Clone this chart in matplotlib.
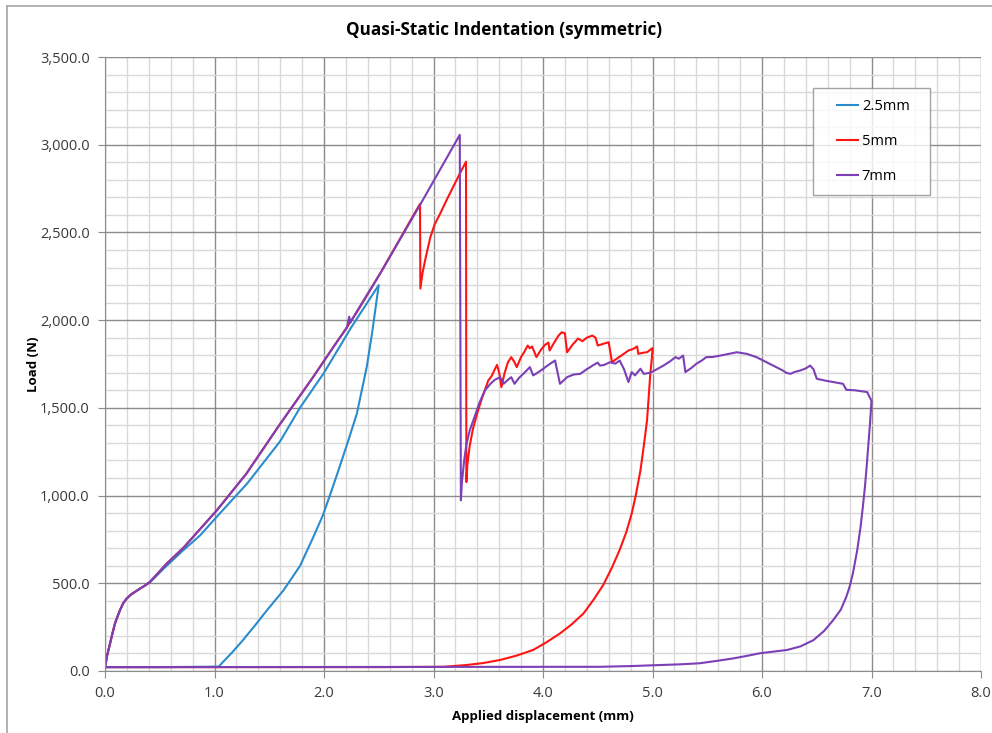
import matplotlib
matplotlib.use("Agg")
import matplotlib.pyplot as plt
from matplotlib.ticker import MultipleLocator, FuncFormatter
from matplotlib.lines import Line2D
from matplotlib.legend_handler import HandlerLine2D

plt.rcParams['font.family'] = ['Open Sans', 'DejaVu Sans']

# ---- data ----
# common loading branch (x in mm, load in N)
load_x = [0.0, 0.02, 0.046, 0.07, 0.091, 0.115, 0.137, 0.165, 0.198, 0.235, 0.274, 0.32, 0.36, 0.41,
          0.56, 0.72, 0.87, 1.02, 1.29, 1.60, 1.90, 2.10, 2.21]
load_y = [20, 90, 157, 220, 271, 312, 347, 385, 413, 435, 451, 470, 485, 508,
          610, 705, 810, 915, 1124, 1409, 1675, 1860, 1959]

# 2.5 mm
b_x = [0.0, 0.02, 0.046, 0.07, 0.091, 0.115, 0.137, 0.165, 0.198, 0.235, 0.274, 0.32, 0.36, 0.41,
       0.53, 0.70, 0.87, 1.00, 1.30, 1.60, 1.78, 2.00, 2.25, 2.50,
       2.48, 2.44, 2.39, 2.30, 2.22, 2.146, 2.07, 1.99, 1.90, 1.78, 1.63, 1.48, 1.37, 1.26, 1.16, 1.066, 1.04,
       0.5, 0.0]
b_y = [20, 90, 157, 220, 271, 312, 347, 385, 413, 435, 451, 470, 485, 505,
       580, 680, 774, 865, 1070, 1310, 1500, 1700, 1960, 2200,
       2111, 1930, 1732, 1467, 1310, 1170, 1030, 888, 760, 598, 460, 347, 260, 176, 105, 44, 25,
       22, 22]

# 5 mm
r_x = load_x + [2.24, 2.30, 2.51, 2.70, 2.80, 2.877, 2.88, 2.90, 2.93, 2.97, 3.01, 3.06, 3.12, 3.18, 3.24,
                3.297, 3.30,
                3.31, 3.33, 3.36, 3.40, 3.44, 3.48, 3.50, 3.53, 3.56, 3.58, 3.60, 3.62, 3.65, 3.68, 3.71,
                3.74, 3.76, 3.80, 3.83, 3.86, 3.88, 3.90, 3.94, 3.98, 4.02, 4.05, 4.06, 4.10, 4.14, 4.17,
                4.20, 4.22, 4.27, 4.32, 4.36, 4.40, 4.45, 4.48, 4.50, 4.55, 4.60, 4.63, 4.67, 4.72, 4.78,
                4.82, 4.86, 4.87, 4.92, 4.95, 4.99, 5.00,
                4.995, 4.98, 4.965, 4.95, 4.92, 4.89, 4.85, 4.81, 4.76, 4.70, 4.63, 4.55, 4.46, 4.37, 4.26,
                4.155, 4.03, 3.91, 3.76, 3.61, 3.45, 3.30, 3.09, 2.5, 0.0]
r_y = load_y + [1990, 2045, 2263, 2470, 2580, 2663, 2180, 2270, 2360, 2470, 2545, 2606, 2685, 2760, 2835,
                2903, 1077,
                1180, 1280, 1380, 1470, 1550, 1620, 1656, 1680, 1720, 1745, 1700, 1618, 1700, 1760, 1789,
                1760, 1732, 1790, 1820, 1855, 1840, 1850, 1789, 1830, 1860, 1872, 1827, 1870, 1910, 1931,
                1925, 1817, 1860, 1895, 1880, 1900, 1912, 1900, 1855, 1865, 1874, 1760, 1779, 1800, 1827,
                1835, 1850, 1808, 1815, 1817, 1836, 1840,
                1790, 1695, 1560, 1428, 1280, 1144, 1010, 897, 790, 690, 590, 490, 405, 328, 265,
                214, 163, 120, 88, 63, 45, 34, 24, 22, 22]

# 7 mm
p_x = load_x + [2.23, 2.24, 2.30, 2.51, 2.88, 3.24, 3.25,
                3.26, 3.28, 3.30, 3.33, 3.37, 3.42, 3.47, 3.52, 3.56, 3.61, 3.64, 3.68, 3.71, 3.74, 3.78,
                3.83, 3.88, 3.91, 3.95, 4.00, 4.05, 4.11, 4.155, 4.22, 4.28, 4.34, 4.40, 4.45, 4.50, 4.52,
                4.56, 4.61, 4.66, 4.70, 4.74, 4.78, 4.81, 4.84, 4.89, 4.92, 4.98, 5.04, 5.10, 5.16, 5.21,
                5.24, 5.28, 5.30, 5.35, 5.40, 5.45, 5.49, 5.55, 5.62, 5.70, 5.77, 5.82, 5.86, 5.95, 6.01,
                6.10, 6.19, 6.22, 6.26, 6.30, 6.35, 6.40, 6.44, 6.47, 6.50, 6.58, 6.65, 6.74, 6.77, 6.85,
                6.96, 6.99, 7.00,
                6.985, 6.97, 6.955, 6.94, 6.92, 6.90, 6.87, 6.83, 6.80, 6.77, 6.72, 6.65, 6.57, 6.47, 6.35,
                6.23, 6.10, 5.98, 5.86, 5.74, 5.58, 5.43, 5.25, 5.07, 4.80, 4.52, 0.0]
p_y = load_y + [2020, 1985, 2050, 2263, 2660, 3056, 973,
                1080, 1200, 1290, 1370, 1440, 1530, 1600, 1637, 1660, 1675, 1637, 1660, 1675, 1637, 1670,
                1700, 1732, 1685, 1700, 1722, 1745, 1770, 1637, 1675, 1690, 1694, 1720, 1740, 1758, 1741,
                1745, 1760, 1752, 1770, 1720, 1647, 1704, 1685, 1723, 1694, 1700, 1720, 1741, 1765, 1789,
                1780, 1798, 1704, 1725, 1751, 1770, 1789, 1790, 1798, 1808, 1817, 1812, 1808, 1789, 1770,
                1741, 1713, 1700, 1694, 1705, 1713, 1725, 1741, 1720, 1666, 1655, 1647, 1637, 1603, 1600,
                1590, 1552, 1540,
                1400, 1277, 1160, 1049, 930, 821, 690, 556, 480, 423, 350, 290, 230, 176, 140,
                120, 110, 101, 86, 72, 57, 44, 38, 34, 28, 24, 22]

series_labels = ['2.5mm', '5mm', '7mm']
colors = ['#2a8ccc', '#ff1414', '#7b3fb6']

# ---- figure ----
fig = plt.figure(figsize=(9.92, 7.33), dpi=100)
ax = fig.add_axes([105 / 992, 62 / 733, 876 / 992, 614 / 733])

for (xs, ys), lab, c in zip([(b_x, b_y), (r_x, r_y), (p_x, p_y)], series_labels, colors):
    ax.plot(xs, ys, color=c, lw=1.5, label=lab, solid_joinstyle='round')

ax.set_xlim(0, 8)
ax.set_ylim(0, 3500)
ax.xaxis.set_major_locator(MultipleLocator(1.0))
ax.xaxis.set_minor_locator(MultipleLocator(0.2))
ax.yaxis.set_major_locator(MultipleLocator(500))
ax.yaxis.set_minor_locator(MultipleLocator(100))
ax.xaxis.set_major_formatter(FuncFormatter(lambda v, p: f"{v:.1f}"))
ax.yaxis.set_major_formatter(FuncFormatter(lambda v, p: f"{v:,.1f}"))

ax.grid(which='major', color='#8c8c8c', lw=1.0)
ax.grid(which='minor', color='#d9d9d9', lw=1.0)
ax.set_axisbelow(True)
for s in ['top', 'right']:
    ax.spines[s].set_visible(False)
for s in ['left', 'bottom']:
    ax.spines[s].set_color('#8c8c8c')
ax.tick_params(which='major', length=5, color='#8c8c8c', labelsize=10.5, labelcolor='#3a3a3a', pad=6)
ax.tick_params(which='minor', length=0)

ax.set_xlabel('Applied displacement (mm)', fontsize=9.5, fontweight='bold', labelpad=6)
ax.set_ylabel('Load (N)', fontsize=9.5, fontweight='bold', labelpad=0)
fig.text(504 / 992, 1 - 30 / 733, 'Quasi-Static Indentation (symmetric)',
         ha='center', va='center', fontsize=12.3, fontweight='bold')

leg = ax.legend(loc='upper left',
                bbox_to_anchor=((813 - 105) / 876, (671 - 88) / 614, (930 - 813) / 876, 0.0),
                mode='expand', frameon=True, fancybox=False, edgecolor='#8c8c8c', fontsize=10.5,
                handlelength=2.33, handletextpad=0.27, labelspacing=1.37, borderpad=0.75,
                borderaxespad=0, handler_map={Line2D: HandlerLine2D(xpad=0.9)})
leg.get_frame().set_linewidth(1.0)

# outer chart frame (left & top visible)
fig.add_artist(Line2D([7 / 992, 7 / 992], [0, 1 - 6 / 733], color='#a6a6a6', lw=1.2, transform=fig.transFigure))
fig.add_artist(Line2D([7 / 992, 1], [1 - 6 / 733, 1 - 6 / 733], color='#a6a6a6', lw=1.2, transform=fig.transFigure))

fig.savefig('out.png', dpi=100)
